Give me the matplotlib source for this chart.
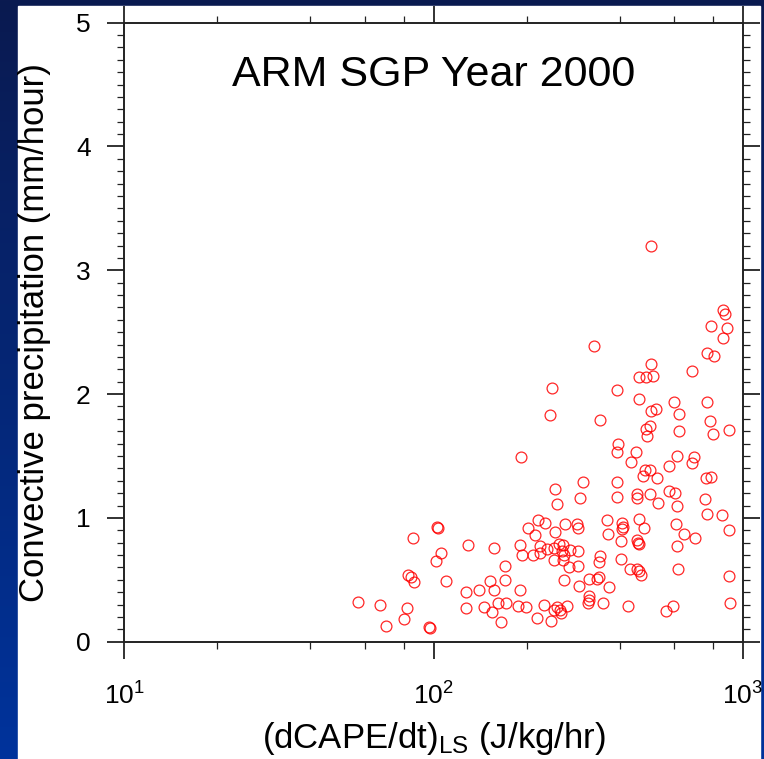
import numpy as np
import matplotlib
matplotlib.use('Agg')
import matplotlib.pyplot as plt
from matplotlib.colors import LinearSegmentedColormap
from matplotlib.patches import Rectangle
from matplotlib.ticker import LogLocator, MultipleLocator, NullFormatter, FuncFormatter

plt.rcParams['font.family'] = ['Liberation Sans', 'DejaVu Sans']
plt.rcParams['mathtext.fontset'] = 'custom'
plt.rcParams['mathtext.rm'] = 'Liberation Sans'
plt.rcParams['mathtext.it'] = 'Liberation Sans'
plt.rcParams['mathtext.default'] = 'regular'

# large-scale CAPE tendency (J/kg/hr)
dcape = [57, 67, 70, 80.5, 82, 83, 84.5, 86, 86.5, 97, 97.5, 103, 103.5, 106, 101.6, 110, 127, 127, 129, 140,
         146, 152, 157, 155, 157,
         162, 165, 171, 170.5, 170, 188, 191, 191, 193.5, 192, 199, 202.5, 210, 213, 215.5, 218, 221, 221, 227, 229,
         232, 238, 239, 241.5, 245, 247, 247, 245, 250, 245, 251, 256, 259, 255, 263, 260, 265, 266, 264, 269,
         263, 275, 276, 290, 292, 292, 294, 295, 297, 305, 315, 317, 319, 317, 330, 337.5, 342.5, 343, 345, 344,
         352, 363, 366, 368, 391, 395.5, 391, 391, 391, 405, 410, 406, 403.5, 403.5, 426, 431.5, 435, 451, 453, 459,
         462, 454, 463, 467, 455, 454, 461, 462, 462, 479, 474.5, 482, 502, 486, 511, 504, 504, 503, 525, 486,
         502, 490, 502, 533, 528, 564, 593, 575, 576, 603, 613, 598.5, 620, 622, 611, 606, 646, 613, 618, 683,
         697, 683, 698,
         753, 765, 759, 786, 764, 781, 797, 767, 806, 790, 860, 875, 886, 864, 857, 901, 902, 902, 908]

# convective precipitation (mm/hour)
precip = [0.32, 0.30, 0.13, 0.18, 0.27, 0.54, 0.52, 0.84, 0.48, 0.12, 0.11, 0.93, 0.915, 0.72, 0.65, 0.49, 0.27, 0.40,
          0.78, 0.42, 0.28, 0.49, 0.42, 0.24, 0.76,
          0.315, 0.16, 0.31, 0.50, 0.61, 0.29, 0.42, 0.78, 0.70, 1.49, 0.28, 0.92, 0.70, 0.86, 0.19, 0.98, 0.77, 0.72,
          0.30, 0.96, 0.75, 1.83, 0.17, 2.05, 0.76, 0.89, 1.23, 0.66, 1.11, 0.26, 0.28, 0.26, 0.23, 0.79, 0.78, 0.73,
          0.70, 0.95, 0.50, 0.29, 0.66, 0.60, 0.74, 0.95, 0.92, 0.73, 0.61, 0.45, 1.16, 1.29, 0.315, 0.37, 0.34, 0.51,
          2.39, 0.51, 0.525, 0.64, 0.69, 1.79,
          0.315, 0.98, 0.87, 0.44, 2.03, 1.60, 1.53, 1.29, 1.17, 0.96, 0.93, 0.91, 0.81, 0.67, 0.29, 0.59, 1.45, 1.53,
          0.82, 0.80, 0.79, 0.59, 0.57, 0.54, 1.19, 1.16, 2.14, 1.96, 0.99, 0.92, 1.34, 1.39, 1.39, 2.14, 2.15, 2.24,
          3.20, 1.86, 1.88, 1.72, 1.74, 1.66, 1.19, 1.12, 1.32, 0.25, 0.29, 1.42, 1.22, 1.20, 1.10, 1.94, 1.84, 1.70,
          1.50, 0.95, 0.87, 0.77, 0.59, 2.19, 1.49, 1.44, 0.84,
          1.15, 1.03, 1.32, 1.33, 1.94, 1.78, 1.68, 2.33, 2.31, 2.55, 2.68, 2.65, 2.53, 2.45, 1.02, 1.71, 0.90, 0.53,
          0.31]

W, H = 764, 759
fig = plt.figure(figsize=(W / 100, H / 100), dpi=100)

# slide background: blue gradient with a white panel
bg = fig.add_axes([0, 0, 1, 1])
cmap = LinearSegmentedColormap.from_list('slide', ['#0a1a50', '#00339c'])
grad = np.linspace(0, 1, 256).reshape(-1, 1)
bg.imshow(grad, aspect='auto', cmap=cmap, extent=[0, 1, 1, 0])
bg.add_patch(Rectangle((18 / W, 0), (760 - 18) / W, (H - 6) / H, color='white', transform=bg.transAxes))
bg.set_xlim(0, 1)
bg.set_ylim(1, 0)
bg.axis('off')

# main plot
ax = fig.add_axes([124 / W, (H - 641.7) / H, 619 / W, 619 / H])
ax.set_facecolor('none')
ax.plot(dcape, precip, 'o', ms=7.8, mfc='none', mec='red', mew=0.9, alpha=0.85, clip_on=False)

ax.set_xscale('log')
ax.set_xlim(10, 1000)
ax.set_ylim(0, 5)
ax.xaxis.set_major_locator(LogLocator(base=10, numticks=5))
ax.xaxis.set_major_formatter(FuncFormatter(lambda v, p: '10$^{%d}$' % round(np.log10(v))))
ax.xaxis.set_minor_locator(LogLocator(base=10, subs=[2, 4, 6, 8], numticks=10))
ax.xaxis.set_minor_formatter(NullFormatter())
ax.yaxis.set_major_locator(MultipleLocator(1))
ax.yaxis.set_minor_locator(MultipleLocator(0.1))

for s in ax.spines.values():
    s.set_linewidth(1.4)
    s.set_color('#222222')
ax.tick_params(which='both', direction='out', top=True, right=True, color='#222222')
ax.tick_params(which='major', length=12, width=1.3, labelsize=19)
ax.tick_params(which='minor', length=5, width=0.9)
ax.tick_params(axis='x', which='major', pad=17)
ax.tick_params(axis='y', which='major', pad=12)

ax.text(0.5, 0.915, 'ARM SGP Year 2000', transform=ax.transAxes, ha='center', va='center', fontsize=31)

ax.set_xlabel('(dCAPE/dt)$_{LS}$ (J/kg/hr)', fontsize=25)
ax.xaxis.set_label_coords(0.5, -0.156)
ax.xaxis.label.set_va('center')
ax.set_ylabel('Convective precipitation (mm/hour)', fontsize=25)
ax.yaxis.set_label_coords(-0.144, 0.5)
ax.yaxis.label.set_va('center')

plt.savefig('out.png', dpi=100)
